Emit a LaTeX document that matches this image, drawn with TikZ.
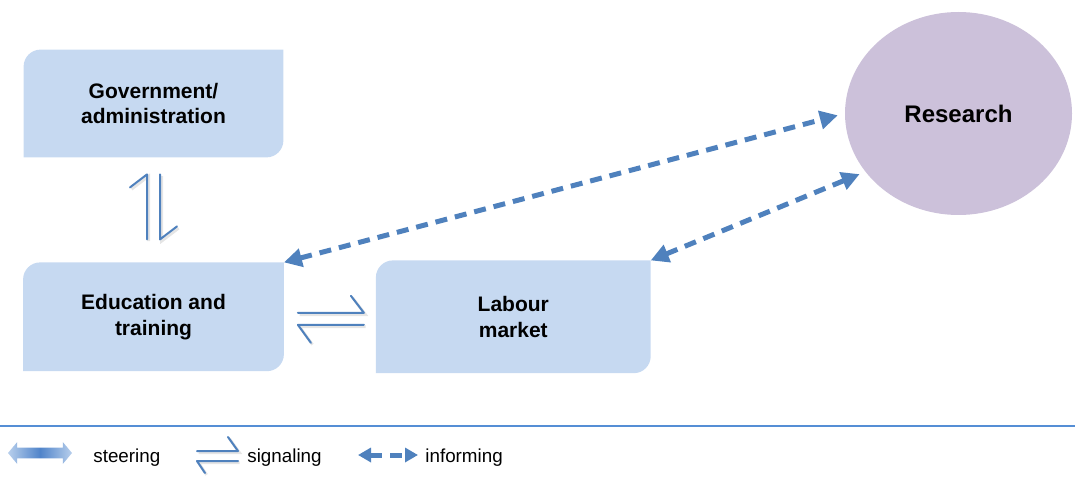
\documentclass[tikz,border=0pt]{standalone}
\usepackage{fontspec}
\setmainfont{Liberation Sans}
\usetikzlibrary{positioning,calc,shapes.geometric,shapes.arrows,backgrounds,arrows.meta}

\definecolor{boxblue}{RGB}{198,217,241}
\definecolor{reslilac}{RGB}{204,193,218}
\definecolor{arrowblue}{RGB}{79,129,189}
\definecolor{ruleblue}{RGB}{85,142,213}
\definecolor{steerlight}{RGB}{184,207,236}
\definecolor{steerdark}{RGB}{80,132,202}

\tikzset{
  actor/.style={align=center, inner sep=0pt, font=\fontsize{10.5}{12.85}\selectfont\bfseries},
  keytext/.style={inner sep=0pt, anchor=base west, font=\fontsize{9.4}{11}\selectfont},
  signal/.style={draw=arrowblue, line width=1pt, line cap=round, line join=round,
    preaction={draw=black, opacity=0.1, line width=1.4pt, transform canvas={shift={(0.8pt,-0.9pt)}}}},
  inform/.style={draw=arrowblue, line width=2.5pt, dash pattern=on 6pt off 4pt,
    {Triangle[length=9pt,width=9pt]}-{Triangle[length=9pt,width=9pt]}},
  informkey/.style={inform, {Triangle[length=6.5pt,width=7pt]}-{Triangle[length=6.5pt,width=7pt]}}
}

% boxes with two rounded corners (top left, bottom right)
\newcommand\diagbox[1]{%
  \fill[boxblue] (#1.south west) -- ([yshift=-8.5pt]#1.north west)
    arc[start angle=180, end angle=90, radius=8.5pt] -- (#1.north east)
    -- ([yshift=8.5pt]#1.south east)
    arc[start angle=0, end angle=-90, radius=8.5pt] -- cycle;}

\begin{document}
\begin{tikzpicture}[x=0.5pt, y=0.5pt]
  \useasboundingbox (0,0) rectangle (1075,477);

  \node[actor, minimum width=129.5pt, minimum height=53.5pt] (gov) at (153.5,373.5) {Government/\\administration};
  \node[actor, minimum width=130pt, minimum height=54pt, below=52.5pt of gov] (edu) {Education and\\training};
  \node[actor, minimum width=137pt, minimum height=56pt, right=46pt of edu] (lab) {Labour\\market};
  \node[ellipse, fill=reslilac, inner sep=0pt, minimum width=113.5pt, minimum height=101.5pt,
        font=\fontsize{12}{14}\selectfont\bfseries] (res) at (958.5,363.5) {Research};

  \begin{scope}[on background layer]
    \diagbox{gov}
    \diagbox{edu}
    \diagbox{lab}
  \end{scope}

  % signaling
  \draw[signal] ([shift={(-3.25pt,11.5pt)}]edu.north) -- ([shift={(-3.25pt,-8.5pt)}]gov.south) -- ++(-8.5pt,-6.5pt);
  \draw[signal] ([shift={(3.25pt,-8.5pt)}]gov.south) -- ([shift={(3.25pt,11.5pt)}]edu.north) -- ++(8.5pt,6.5pt);
  \draw[signal] ([shift={(7pt,2pt)}]edu.east) -- ([shift={(-6pt,2pt)}]lab.west) -- ++(-6.5pt,8.5pt);
  \draw[signal] ([shift={(-6pt,-4pt)}]lab.west) -- ([shift={(7pt,-4pt)}]edu.east) -- ++(6.5pt,-9pt);

  % informing
  \draw[inform, shorten >=3.5pt] (edu.north east) -- (res.west);
  \draw[inform, shorten >=3pt] (lab.north east) -- (res.212);

  % legend
  \draw[ruleblue, line width=1pt] (0,51) -- (1075,51);
  \node[double arrow, double arrow head extend=2.75pt, double arrow tip angle=100, inner xsep=0pt, inner ysep=2.5pt,
        minimum height=32pt, left color=steerlight, right color=steerlight, middle color=steerdark] (steerkey) at (40,24) {};
  \node[keytext] (steertext) at (93,15) {steering};
  \coordinate (sigkey) at (217.5,21);
  \draw[signal] ([shift={(-20.5,5)}]sigkey) -- ++(41,0) -- ++(-10,14);
  \draw[signal] ([shift={(20.5,-5)}]sigkey) -- ++(-41,0) -- ++(8,-12);
  \node[keytext] (sigtext) at (247,15) {signaling};
  \coordinate (infkeya) at (358,22);
  \coordinate (infkeyb) at (418,22);
  \draw[informkey] (infkeya) -- (infkeyb);
  \node[keytext] (inftext) at (425,15) {informing};
\end{tikzpicture}
\end{document}
